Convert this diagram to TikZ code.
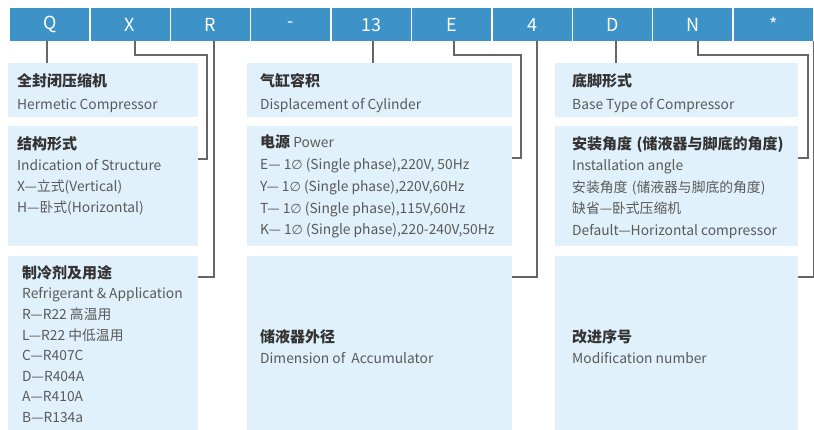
\documentclass[tikz,border=0pt]{standalone}
\usepackage{fontspec}
\setmainfont{Noto Sans CJK SC}
\newfontfamily\dejavu{DejaVu Sans}
\definecolor{barblue}{HTML}{3D93C8}
\definecolor{boxblue}{HTML}{E0F1FB}
\definecolor{linegray}{HTML}{666666}
\definecolor{txtgray}{HTML}{5A5A5A}
\definecolor{titlegray}{HTML}{333333}
\newcommand{\ttl}[1]{{\color{titlegray}\bfseries\fontsize{15}{15}\selectfont #1}}
\newcommand{\onephase}{{\dejavu\fontsize{13}{13}\selectfont ∅}}
\newcommand{\lpar}{\kern4.5pt(}
\newcommand{\rpar}{)}
\begin{document}
\begin{tikzpicture}[x=1pt,y=-1pt,
  cell/.style={fill=barblue, minimum width=79pt, minimum height=33pt, inner sep=0pt, text=white, font=\fontsize{18}{18}\selectfont, anchor=north west},
  box/.style={fill=boxblue, inner sep=0pt, anchor=north west},
  txt/.style={anchor=north west, inner sep=0pt, align=left, text=txtgray, font=\fontsize{13.8}{21}\selectfont},
  conn/.style={draw=linegray, line width=1.3pt}]
\useasboundingbox (0,0) rectangle (814,430);
% top code bar
\foreach \i/\t in {0/Q,1/X,2/R,3/-,4/13,5/E,6/4,7/D,8/N,9/*}
  \node[cell] (c\i) at (10+\i*80.4,8) {\t};
% boxes
\node[box, minimum width=190pt, minimum height=54pt]  (b11) at (8,63) {};
\node[box, minimum width=190pt, minimum height=120pt] (b12) at (8,126) {};
\node[box, minimum width=190pt, minimum height=174pt] (b13) at (8,256) {};
\node[box, minimum width=265pt, minimum height=54pt]  (b21) at (247,63) {};
\node[box, minimum width=265pt, minimum height=120pt] (b22) at (247,126) {};
\node[box, minimum width=265pt, minimum height=174pt] (b23) at (247,256) {};
\node[box, minimum width=243pt, minimum height=54pt]  (b31) at (555,63) {};
\node[box, minimum width=243pt, minimum height=120pt] (b32) at (555,126) {};
\node[box, minimum width=243pt, minimum height=174pt] (b33) at (555,256) {};
% texts
\node[txt] (t11) at (17,73) {\ttl{全封闭压缩机}\\[2pt]Hermetic Compressor};
\node[txt] (t12) at (17,136) {\ttl{结构形式}\\Indication of Structure\\X—立式(Vertical)\\H—卧式(Horizontal)};
\node[txt, font=\fontsize{13.8}{20.6}\selectfont] (t13) at (22,265) {\ttl{制冷剂及用途}\\Refrigerant \& Application\\R—R22 高温用\\L—R22 中低温用\\C—R407C\\D—R404A\\A—R410A\\B—R134a};
\node[txt] (t21) at (260,73) {\ttl{气缸容积}\\[2pt]Displacement of Cylinder};
\node[txt, font=\fontsize{13.8}{21.7}\selectfont] (t22) at (260,135) {\ttl{电源}\ Power\\E— 1\onephase\ (Single phase),220V, 50Hz\\Y— 1\onephase\ (Single phase),220V,60Hz\\T— 1\onephase\ (Single phase),115V,60Hz\\K— 1\onephase\ (Single phase),220-240V,50Hz};
\node[txt] (t23) at (260,329) {\ttl{储液器外径}\\Dimension of\ \ Accumulator};
\node[txt] (t31) at (572,73) {\ttl{底脚形式}\\[2pt]Base Type of Compressor};
\node[txt, font=\fontsize{13.8}{21.5}\selectfont] (t32) at (572,136) {\ttl{安装角度\lpar 储液器与脚底的角度\rpar}\\Installation angle\\安装角度\lpar 储液器与脚底的角度\rpar\\缺省—卧式压缩机\\Default—Horizontal compressor};
\node[txt] (t33) at (572,329) {\ttl{改进序号}\\Modification number};
% connectors
\coordinate (kx) at (207,55);
\coordinate (ke) at (521,55);
\coordinate (kn) at (808,55);
\draw[conn] ([xshift=-2.6pt]c0.south) -- ([xshift=-2.6pt]c0.south |- b11.north);
\draw[conn] ([xshift=5pt]c1.south) |- (kx) |- ([yshift=-33pt]b12.north east);
\draw[conn] ([xshift=3.6pt]c2.south) |- ([yshift=-21pt]b13.north east);
\draw[conn] ([xshift=1.8pt]c4.south) -- ([xshift=1.8pt]c4.south |- b21.north);
\draw[conn] ([xshift=2.4pt]c5.south) |- (ke) |- ([yshift=-32pt]b22.north east);
\draw[conn] ([xshift=5pt]c6.south) |- ([yshift=-21pt]b23.north east);
\draw[conn] ([xshift=3.6pt]c7.south) -- ([xshift=3.6pt]c7.south |- b31.north);
\draw[conn] ([xshift=5.2pt]c8.south) |- (kn) |- ([yshift=-32pt]b32.north east);
\draw[conn] ([xshift=40.8pt]c9.south) |- ([yshift=-21pt]b33.north east);
\end{tikzpicture}
\end{document}
